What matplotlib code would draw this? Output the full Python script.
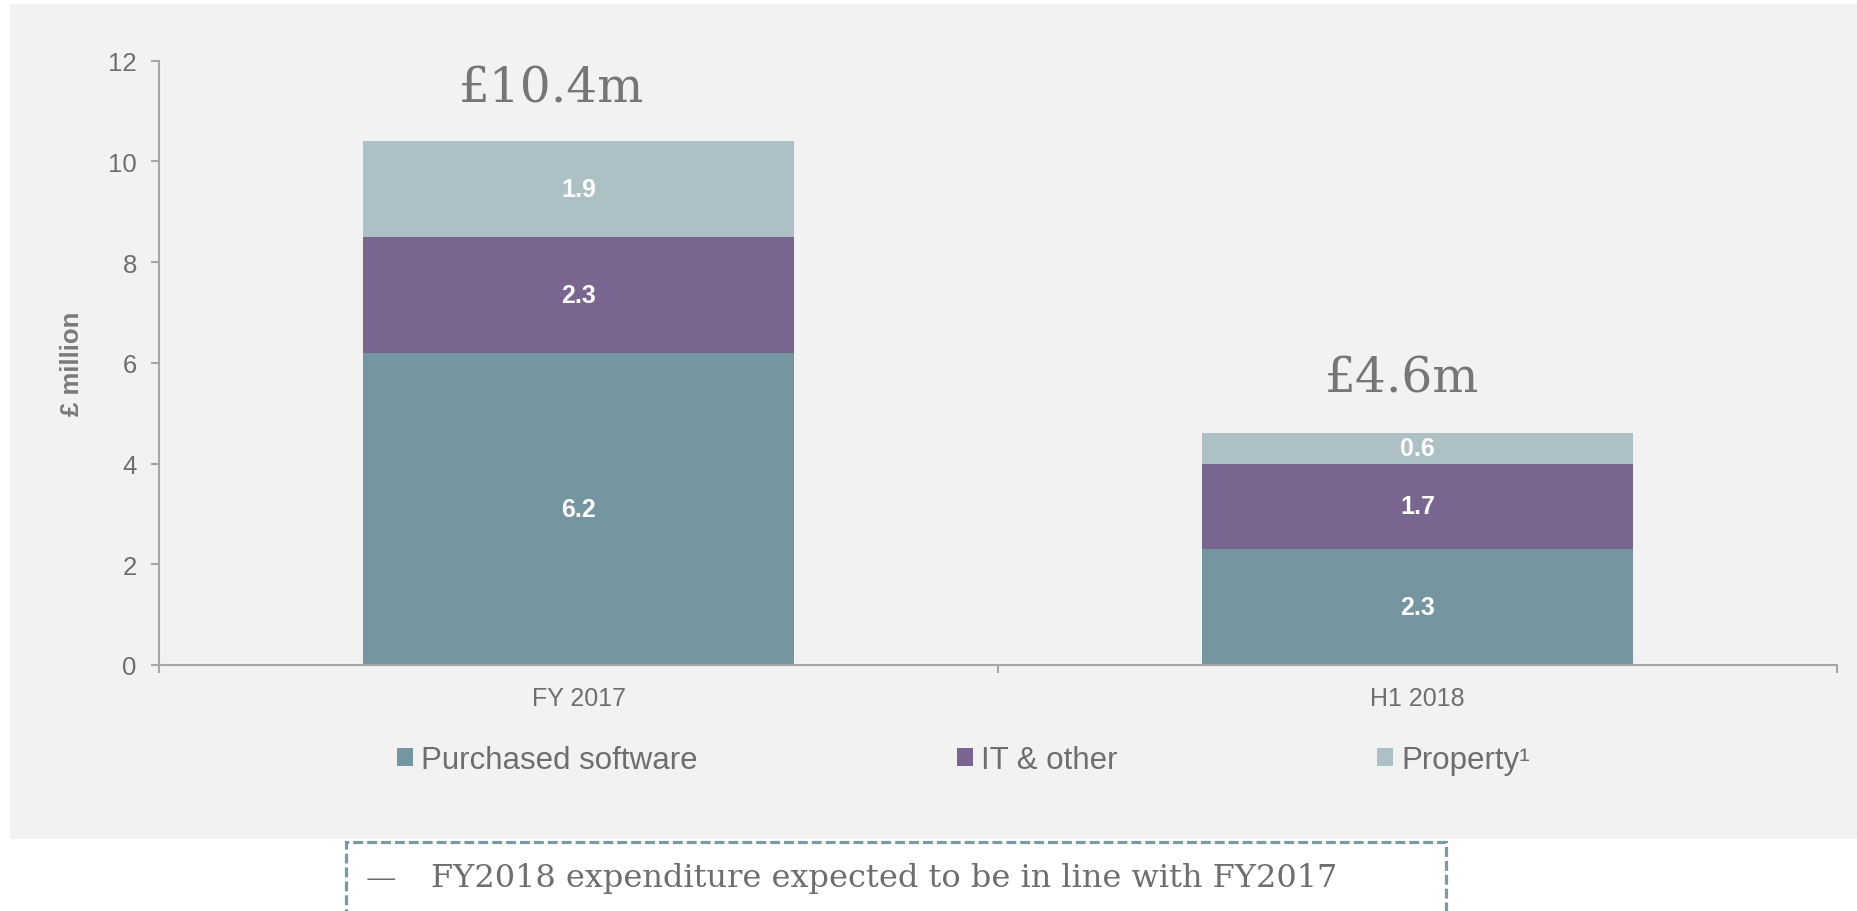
import matplotlib
matplotlib.use("Agg")
import matplotlib.pyplot as plt
from matplotlib.patches import Rectangle, Patch
import numpy as np

# ---- data ----
categories = ["FY 2017", "H1 2018"]
series_names = ["Purchased software", "IT & other", "Property\u00b9"]
purchased_software = [6.2, 2.3]
it_other = [2.3, 1.7]
property_vals = [1.9, 0.6]
totals_labels = ["\u00a310.4m", "\u00a34.6m"]
yticks = [0, 2, 4, 6, 8, 10, 12]
note_text = "FY2018 expenditure expected to be in line with FY2017"

colors = ["#7596A0", "#79658F", "#ADC0C6"]
grey_text = "#6E6E6E"
axis_col = "#A6A6A6"

W, H = 1858, 912
fig = plt.figure(figsize=(W / 100, H / 100), dpi=100)
fig.patch.set_facecolor("white")

# background panel
fig.add_artist(Rectangle((10 / W, 1 - 840 / H), 1 - 10 / W, (840 - 5) / H,
                         transform=fig.transFigure, facecolor="#F2F2F2",
                         edgecolor="none", zorder=-10))

ax = fig.add_axes([159 / W, 1 - 666 / H, (1837 - 159) / W, (666 - 61.7) / H])
ax.set_facecolor("none")

x = np.arange(len(categories))
width = 0.513
series = [purchased_software, it_other, property_vals]
bottom = np.zeros(len(categories))
for vals, col in zip(series, colors):
    vals = np.array(vals)
    ax.bar(x, vals, width, bottom=bottom, color=col, edgecolor="none", zorder=2)
    for xi, b, v in zip(x, bottom, vals):
        ax.text(xi, b + v / 2, f"{v:.1f}", ha="center", va="center", color="white",
                fontsize=18, fontweight="bold", family="Liberation Sans", zorder=3)
    bottom = bottom + vals

totals = bottom
offsets = [(-27, 40), (-16, 42)]
for xi, t, lab, off in zip(x, totals, totals_labels, offsets):
    ax.annotate(lab, xy=(xi, t), xytext=off, textcoords="offset pixels",
                ha="center", va="baseline", fontsize=35, family="DejaVu Serif",
                color="#767676")

ax.set_xlim(-0.5, len(categories) - 0.5)
ax.set_ylim(0, 12)
ax.set_yticks(yticks)
ax.set_xticks(x)
ax.set_xticklabels(categories)
ax.set_xticks(np.arange(-0.5, len(categories)), minor=True)

for s in ["top", "right"]:
    ax.spines[s].set_visible(False)
for s in ["left", "bottom"]:
    ax.spines[s].set_color(axis_col)
    ax.spines[s].set_linewidth(1.5)

ax.tick_params(axis="y", which="major", length=5.5, width=1.5, color=axis_col,
               labelsize=18.5, labelcolor=grey_text, pad=10.5)
ax.tick_params(axis="x", which="major", length=0, labelsize=18,
               labelcolor=grey_text, pad=15)
ax.tick_params(axis="x", which="minor", length=5.8, width=1.5, color=axis_col)
for lab in ax.get_xticklabels() + ax.get_yticklabels():
    lab.set_family("Liberation Sans")

ax.set_ylabel("\u00a3 million", fontsize=18.5, fontweight="bold", color="#7A7A7A",
              family="Liberation Sans", labelpad=30)
ax.yaxis.set_label_coords(-(159 - 84) / (1837 - 159), 0.5)

handles = [Patch(facecolor=c, edgecolor="none") for c in colors]
leg = fig.legend(handles, series_names, loc="center", ncol=3, frameon=False,
                 bbox_to_anchor=(963.5 / W, 1 - 760.7 / H),
                 prop={"family": "Liberation Sans", "size": 22.5},
                 handlelength=0.52, handleheight=0.52, handletextpad=0.26,
                 columnspacing=8.29, borderpad=0)
for t in leg.get_texts():
    t.set_color(grey_text)

# dashed note box
fig.add_artist(Rectangle((346 / W, -0.1), (1446 - 346) / W, 0.1 + (912 - 842.5) / H,
                         transform=fig.transFigure, facecolor="none",
                         edgecolor="#7B9AA3", linewidth=2.3,
                         linestyle=(0, (3.1, 1.25)), clip_on=False))
fig.text(366 / W, (912 - 887) / H, "\u2014", fontsize=22, family="DejaVu Serif",
         color=grey_text, ha="left", va="baseline")
fig.text(431 / W, (912 - 887) / H, note_text, fontsize=23, family="DejaVu Serif",
         color=grey_text, ha="left", va="baseline")

fig.savefig("out.png", dpi=100, facecolor="white")
